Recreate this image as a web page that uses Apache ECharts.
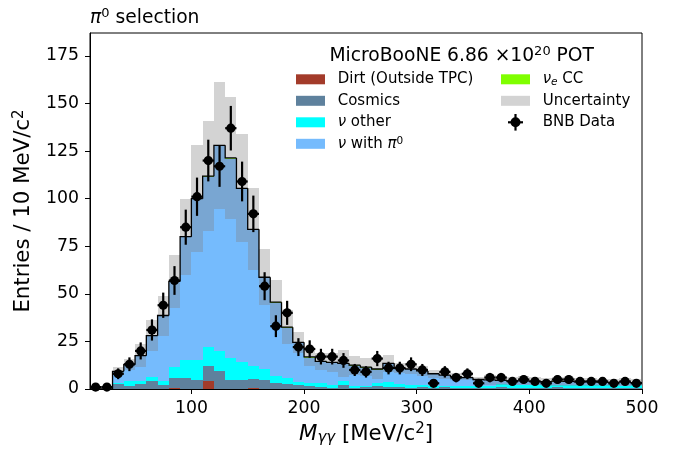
<!DOCTYPE html>
<html><head><meta charset="utf-8">
<script src="https://cdn.jsdelivr.net/npm/echarts@6/dist/echarts.min.js"></script>
<style>html,body{margin:0;padding:0;background:#fff}#c{width:673px;height:451px}</style>
</head><body><div id="c"></div>
<script>
// ---- data (MeV/c^2 bins, entries / 10 MeV/c^2) ----
const binEdges = [10,20,30,40,50,60,70,80,90,100,110,120,130,140,150,160,170,180,190,200,210,220,230,240,250,260,270,280,290,300,310,320,330,340,350,360,370,380,390,400,410,420,430,440,450,460,470,480,490,500];
const dirt = [0,0,0,0,0,0,0,0.3,0,0,4.0,0,0,0,0.5,0,0,0,0,0,0,0,0,0,0,0,0,0,0,0,0,0,0,0,0,0,0,0,0,0,0,0,0,0,0,0,0,0,0];
const cosmics = [0,0,2.8,1.7,2.6,4.0,2.3,5.5,6.0,4.9,8.3,9.3,4.9,4.9,4.8,4.9,3.2,2.8,2.3,1.4,1.1,0.6,2.3,0.6,0.8,1.8,1.1,0.9,0.6,1.1,0.5,0.8,0.4,0.6,0.3,0.5,0.8,0.4,0.6,0.3,0.5,0.9,0.4,0.3,0.6,0.4,0.5,0.3,0.6];
const nuOther = [0,0,0.5,2.3,1.4,2.2,1.7,5.5,9.0,10.1,9.6,10.8,11.4,9.1,6.6,5.8,3.5,3.0,1.2,1.8,2.1,1.7,2.1,1.2,1.0,1.4,2.4,1.8,1.7,0.9,1.2,0.8,1.2,1.0,1.5,1.2,1.6,1.9,1.5,1.8,1.7,1.4,1.9,1.6,1.5,1.8,1.7,1.4,1.6];
const nuPi0 = [0,0,5.9,8.7,13.4,21.4,34.2,44.8,64.6,84.6,89.5,107.5,104.7,91.0,71.6,47.6,38.5,26.3,20.6,13.3,10.9,11.3,8.7,10.3,9.3,6.9,9.8,8.1,8.0,7.3,6.1,5.5,4.7,4.2,3.0,2.9,2.0,1.7,2.0,1.7,1.4,1.6,1.5,1.6,1.6,1.2,1.1,1.8,1.0];
const nueCC = [0,0,0.1,0.1,0.1,0.4,0.4,0.4,0.4,0.4,0.4,0.4,0.4,0.4,0.4,0.4,0.4,0.4,0.4,0.4,0.4,0.4,0.4,0.4,0.4,0.4,0.2,0.2,0.2,0.2,0.2,0.2,0.2,0.2,0.2,0.2,0.2,0.2,0.2,0.2,0.2,0.2,0.2,0.2,0.2,0.2,0.2,0.2,0.2];
const mcUncert = [0,0,2.0,3.0,6.0,8.0,10.5,14,20,28,29,33.5,32,28.3,21.5,14.7,11.7,9,5.7,5,4.5,5,7,5,4.8,5,4.5,2.7,2.5,2.5,2.2,1.8,1.9,1.5,1.2,2.5,2.4,2.2,2.3,2.1,2.0,2.3,2.2,2.0,2.1,1.9,1.9,2.0,1.8];
const bnbData = [1,1,8,13,20,31,44,57,85,101,120,117,137,109,92,54,33,40,22,21,17,17,15,10,9,16,11,11,13,10,3,9,6,8,3,6,6,4,5,4,3,5,5,4,4,4,3,4,3];
const bnbErr = [1,1,2.83,3.61,4.47,5.57,6.63,7.55,9.22,10.05,10.95,10.82,11.7,10.44,9.59,7.35,5.74,6.32,4.69,4.58,4.12,4.12,3.87,3.16,3,4,3.32,3.32,3.61,3.16,1.73,3,2.45,2.83,1.73,2.45,2.45,2,2.24,2,1.73,2.24,2.24,2,2,2,1.73,2,1.73];
const xTicks = [100,200,300,400,500];
const yTicks = [0,25,50,75,100,125,150,175];

// ---- chart ----
const FONT = 'DejaVu Sans';
const chart = echarts.init(document.getElementById('c'), null, {renderer:'canvas'});
const nBins = binEdges.length - 1;

function rectRender(color, opacity){
  return function(params, api){
    const x0 = api.value(0), x1 = api.value(1), y0 = api.value(2), y1 = api.value(3);
    if (!(y1 > y0)) return null;
    const a = api.coord([x0, y1]), b = api.coord([x1, y0]);
    const L = Math.round(a[0]), R = Math.round(b[0]), T = Math.round(a[1]), B = Math.round(b[1]);
    if (B <= T) return null;
    return {type:'rect', shape:{x:L, y:T, width:R-L, height:B-T}, style:{fill:color, opacity:opacity}};
  };
}

const layers = [
  {name:'Dirt (Outside TPC)', color:'#a33b2a', vals:dirt},
  {name:'Cosmics', color:'#5e819d', vals:cosmics},
  {name:'ν other', color:'#00ffff', vals:nuOther},
  {name:'ν with π0', color:'#75bbfd', vals:nuPi0},
  {name:'νe CC', color:'#7fff00', vals:nueCC}
];
const base = new Array(nBins).fill(0);
const series = [];
layers.forEach((Ly, k) => {
  const data = [];
  for (let i = 0; i < nBins; i++) {
    data.push([binEdges[i], binEdges[i+1], base[i], base[i] + Ly.vals[i]]);
    base[i] += Ly.vals[i];
  }
  series.push({type:'custom', name:Ly.name, z:2+k, silent:true, itemStyle:{color:Ly.color},
    renderItem:rectRender(Ly.color, 1), encode:{x:[0,1], y:[2,3]}, data:data});
});
const total = base.slice();

// uncertainty band
const bandData = [];
for (let i = 0; i < nBins; i++) bandData.push([binEdges[i], binEdges[i+1], Math.max(0, total[i]-mcUncert[i]), total[i]+mcUncert[i]]);
series.push({type:'custom', name:'Uncertainty', z:10, silent:true, itemStyle:{color:'#d3d3d3'},
  renderItem:rectRender('#808080', 0.35), encode:{x:[0,1], y:[2,3]}, data:bandData});

// total step outline
const stepData = [];
for (let i = 0; i < nBins; i++) stepData.push([binEdges[i], binEdges[i+1], total[i], i > 0 ? total[i-1] : 0]);
series.push({type:'custom', name:'MC total', z:12, silent:true,
  renderItem:function(params, api){
    const x0 = api.value(0), x1 = api.value(1), t = api.value(2), p = api.value(3);
    const a = api.coord([x0, p]), b = api.coord([x0, t]), c = api.coord([x1, t]);
    return {type:'polyline', shape:{points:[a, b, c]}, style:{stroke:'#000', lineWidth:1.3, fill:null}};
  }, encode:{x:[0,1], y:[2,3]}, data:stepData});

// data points
const ptData = [];
for (let i = 0; i < nBins; i++) ptData.push([(binEdges[i]+binEdges[i+1])/2, bnbData[i], bnbErr[i], (binEdges[i+1]-binEdges[i])/2]);
series.push({type:'custom', name:'BNB Data', z:20, silent:true, itemStyle:{color:'#000'},
  renderItem:function(params, api){
    const x = api.value(0), y = api.value(1), e = api.value(2), h = api.value(3);
    const c = api.coord([x, y]), t = api.coord([x, y+e]), b = api.coord([x, Math.max(0, y-e)]);
    const l = api.coord([x-h, y]), r = api.coord([x+h, y]);
    return {type:'group', children:[
      {type:'line', shape:{x1:c[0], y1:t[1], x2:c[0], y2:b[1]}, style:{stroke:'#000', lineWidth:2.2}},
      {type:'line', shape:{x1:l[0], y1:c[1], x2:r[0], y2:c[1]}, style:{stroke:'#000', lineWidth:2.2}},
      {type:'circle', shape:{cx:c[0], cy:c[1], r:4.6}, style:{fill:'#000'}}
    ]};
  }, encode:{x:0, y:1}, data:ptData});

const legBase = {fontSize:15, fontFamily:FONT, color:'#000', lineHeight:16};
const legRich = {
  g:{width:7.7, fontSize:15, fontFamily:FONT, lineHeight:16},
  it:{fontSize:15, fontFamily:FONT, fontStyle:'italic', color:'#000', lineHeight:16},
  sup:{fontSize:10.5, fontFamily:FONT, color:'#000', verticalAlign:'top', lineHeight:9},
  subit:{fontSize:10.5, fontFamily:FONT, fontStyle:'italic', color:'#000', verticalAlign:'bottom', lineHeight:9}
};
function legFmt(name){
  if (name === 'ν other') return '{g| }{it|ν} other';
  if (name === 'ν with π0') return '{g| }{it|ν} with {it|π}{sup|0}';
  if (name === 'νe CC') return '{g| }{it|ν}{subit|e} CC';
  return '{g| }' + name;
}
const legCommon = {orient:'vertical', padding:0, itemWidth:29, itemHeight:10, itemGap:5.5, icon:'rect',
  selectedMode:false, formatter:legFmt, textStyle:Object.assign({rich:legRich}, legBase)};

const option = {
  animation:false,
  backgroundColor:'#fff',
  grid:{left:90, right:31, top:33, bottom:61.6, show:true, borderColor:'#000', borderWidth:1, backgroundColor:'transparent'},
  xAxis:{type:'value', min:10, max:500,
    axisLine:{onZero:false, lineStyle:{color:'#000', width:1}},
    axisTick:{show:true, customValues:xTicks, length:5, lineStyle:{color:'#000', width:1}},
    axisLabel:{customValues:xTicks, fontSize:17.3, fontFamily:FONT, color:'#000', margin:11},
    splitLine:{show:false},
    name:'{it|M}{sub|γγ} [MeV/c{sup|2}]', nameLocation:'middle', nameGap:33,
    nameTextStyle:{fontSize:21.3, fontFamily:FONT, color:'#000', lineHeight:24,
      rich:{it:{fontSize:21.3, fontFamily:FONT, fontStyle:'italic', color:'#000', lineHeight:24},
            sub:{fontSize:15, fontFamily:FONT, fontStyle:'italic', color:'#000', verticalAlign:'bottom', lineHeight:12},
            sup:{fontSize:15, fontFamily:FONT, color:'#000', verticalAlign:'top', lineHeight:12}}}
  },
  yAxis:{type:'value', min:0, max:187,
    axisLine:{show:true, lineStyle:{color:'#000', width:1}},
    axisTick:{show:true, customValues:yTicks, length:5, lineStyle:{color:'#000', width:1}},
    axisLabel:{customValues:yTicks, fontSize:17.3, fontFamily:FONT, color:'#000', margin:11},
    splitLine:{show:false},
    name:'Entries / 10 MeV/c{sup|2}', nameLocation:'middle', nameGap:48, nameRotate:90,
    nameTextStyle:{fontSize:21.3, fontFamily:FONT, color:'#000', lineHeight:24,
      rich:{sup:{fontSize:15, fontFamily:FONT, color:'#000', verticalAlign:'top', lineHeight:12}}}
  },
  legend:[
    Object.assign({left:296, top:71.3, data:['Dirt (Outside TPC)','Cosmics','ν other','ν with π0']}, legCommon),
    Object.assign({left:501, top:71.3, data:['νe CC', {name:'Uncertainty', itemStyle:{color:'#d3d3d3'}}, {name:'BNB Data', icon:'circle'}]}, legCommon)
  ],
  graphic:[
    {type:'text', x:461.7, y:55.7, z:100, style:{text:'MicroBooNE 6.86 ×10{sup|20} POT', fontSize:18.7, fontFamily:FONT, fill:'#000', align:'center', verticalAlign:'middle', lineHeight:22,
      rich:{sup:{fontSize:13, fontFamily:FONT, fill:'#000', verticalAlign:'top', lineHeight:10}}}},
    {type:'text', x:90, y:18.5, z:100, style:{text:'{it|π}{sup|0} selection', fontSize:18.7, fontFamily:FONT, fill:'#000', align:'left', verticalAlign:'middle', lineHeight:22,
      rich:{it:{fontSize:18.7, fontFamily:FONT, fontStyle:'italic', fill:'#000', lineHeight:22},
            sup:{fontSize:13, fontFamily:FONT, fill:'#000', verticalAlign:'top', lineHeight:10}}}},
    {type:'line', z:100, shape:{x1:515.5, y1:114, x2:515.5, y2:130.6}, style:{stroke:'#000', lineWidth:2.2}},
    {type:'line', z:100, shape:{x1:508, y1:122.3, x2:523, y2:122.3}, style:{stroke:'#000', lineWidth:2.2}}
  ],
  series:series
};
chart.setOption(option);
</script>
</body></html>
